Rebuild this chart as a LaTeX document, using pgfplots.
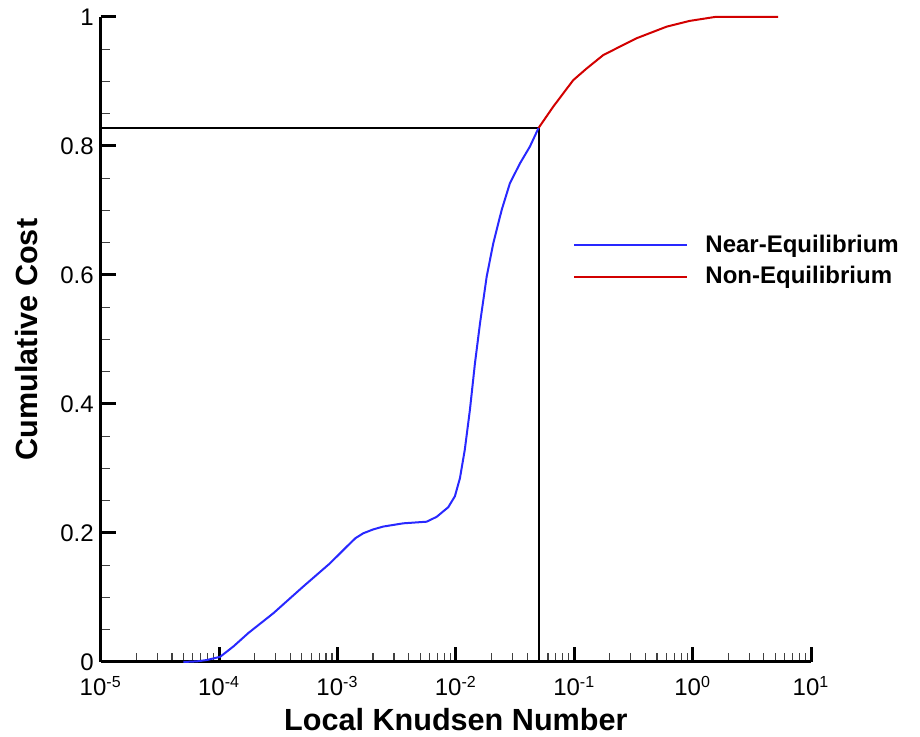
\documentclass[border=0pt]{standalone}
\usepackage{pgfplots}
\pgfplotsset{compat=1.18}
\usepackage{fontspec}
\setmainfont{Liberation Sans}

\definecolor{nearcol}{RGB}{40,40,255}
\definecolor{noncol}{RGB}{210,0,0}

% Near-equilibrium part of the cumulative cost
\pgfplotstableread{
kn        cost
5.0e-5    0.000
6.5e-5    0.001
7.85e-5   0.003
1.02e-4   0.008
1.32e-4   0.024
1.77e-4   0.045
2.87e-4   0.0755
5.14e-4   0.117
8.65e-4   0.153
1.20e-3   0.179
1.42e-3   0.192
1.65e-3   0.1995
2.0e-3    0.2055
2.44e-3   0.210
3.60e-3   0.215
5.66e-3   0.2175
6.88e-3   0.225
8.63e-3   0.240
9.82e-3   0.257
1.083e-2  0.285
1.19e-2   0.329
1.315e-2  0.391
1.45e-2   0.463
1.60e-2   0.525
1.82e-2   0.597
2.07e-2   0.649
2.44e-2   0.701
2.86e-2   0.742
3.48e-2   0.773
4.22e-2   0.799
5.0e-2    0.828
}\neartable

% Non-equilibrium part of the cumulative cost
\pgfplotstableread{
kn        cost
5.0e-2    0.828
6.65e-2   0.861
9.8e-2    0.902
1.27e-1   0.920
1.76e-1   0.941
2.43e-1   0.954
3.36e-1   0.967
6.03e-1   0.985
9.49e-1   0.994
1.54      1.000
5.28      1.000
}\nontable

\begin{document}
\begin{tikzpicture}
\path[use as bounding box] (-50.35pt,-37.5pt) rectangle (409.65pt,331pt);
\begin{axis}[
  scale only axis,
  width=355.15pt, height=322.5pt,
  xmode=log,
  xmin=1e-5, xmax=10,
  ymin=0, ymax=1,
  axis x line=bottom, axis y line=left,
  axis line style={-, line width=1.5pt},
  tick align=inside,
  major tick length=7.5pt,
  minor tick length=4.5pt,
  every major tick/.append style={line width=1.5pt, black},
  every minor tick/.append style={line width=0.6pt, black!75},
  xtick={1e-5,1e-4,1e-3,1e-2,1e-1,1,10},
  xticklabels={10\textsuperscript{-5},10\textsuperscript{-4},10\textsuperscript{-3},10\textsuperscript{-2},10\textsuperscript{-1},10\textsuperscript{0},10\textsuperscript{1}},
  ytick={0,0.2,0.4,0.6,0.8,1},
  yticklabels={0,0.2,0.4,0.6,0.8,1},
  minor y tick num=3,
  tick label style={font=\fontsize{12}{14}\selectfont},
  xticklabel style={yshift=-3.5pt},
  xlabel={Local Knudsen Number},
  ylabel={Cumulative Cost},
  label style={font=\fontsize{15.3}{18}\selectfont\bfseries},
  xlabel style={at={(axis description cs:0.5,-0.09)}, anchor=center},
  ylabel style={at={(axis description cs:-0.1038,0.5)}, anchor=center},
  legend style={at={(axis description cs:0.665,0.622)}, anchor=west,
    draw=none, fill=none, inner sep=0pt, row sep=1.5pt,
    font=\fontsize{12}{14}\selectfont\bfseries,
    cells={anchor=west}},
  legend image code/.code={\draw[#1] (0pt,0pt) -- (56.5pt,0pt); \path (63pt,0pt);},
  clip=false,
]
\addplot[black, line width=1pt, forget plot] coordinates {(1e-5,0.828) (0.05,0.828) (0.05,0)};
\addplot[nearcol, line width=1pt, line join=round] table[x=kn, y=cost] {\neartable};
\addlegendentry{Near-Equilibrium}
\addplot[noncol, line width=1pt, line join=round] table[x=kn, y=cost] {\nontable};
\addlegendentry{Non-Equilibrium}
\end{axis}
\end{tikzpicture}
\end{document}
